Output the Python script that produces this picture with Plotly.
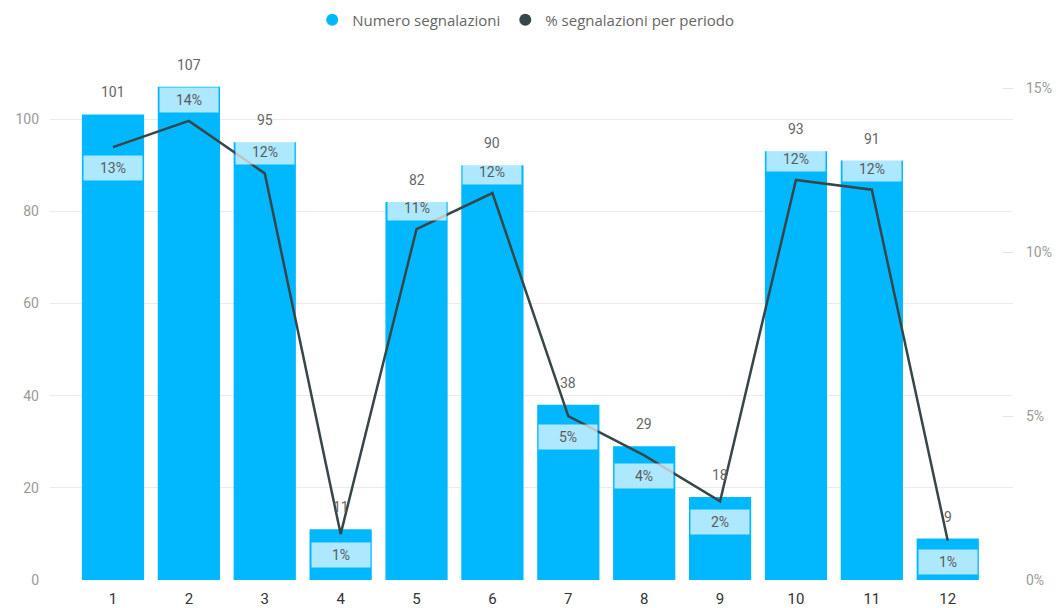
import plotly.graph_objects as go

periods = [1, 2, 3, 4, 5, 6, 7, 8, 9, 10, 11, 12]
counts = [101, 107, 95, 11, 82, 90, 38, 29, 18, 93, 91, 9]
pct = [0.132, 0.140, 0.124, 0.014, 0.107, 0.118, 0.050, 0.038, 0.024, 0.122, 0.119, 0.012]
pct_labels = ["13%", "14%", "12%", "1%", "11%", "12%", "5%", "4%", "2%", "12%", "12%", "1%"]
pct_side = [-1, 1, 1, -1, 1, 1, -1, -1, -1, 1, 1, -1]  # label above (1) or below (-1) the line point

BAR = "#01B8FF"
LINE = "#374649"
LBL = "Roboto"
TXT = "Open Sans"

fig = go.Figure()
fig.add_trace(go.Bar(x=periods, y=counts, marker=dict(color=BAR, line=dict(width=0)),
                     name="Numero segnalazioni", showlegend=False, hoverinfo="skip"))
fig.add_trace(go.Scatter(x=periods, y=pct, yaxis="y2", mode="lines",
                         line=dict(color=LINE, width=2.5), name="% segnalazioni per periodo",
                         showlegend=False, hoverinfo="skip"))
# legend entries (circle markers as in the reference)
fig.add_trace(go.Scatter(x=[None], y=[None], mode="markers", name="Numero segnalazioni",
                         marker=dict(symbol="circle", size=15, color=BAR)))
fig.add_trace(go.Scatter(x=[None], y=[None], mode="markers", name="% segnalazioni per periodo",
                         marker=dict(symbol="circle", size=15, color=LINE)))

annotations = []
for x, c in zip(periods, counts):
    annotations.append(dict(x=x, y=c, xref="x", yref="y", text=str(c), showarrow=False,
                            yanchor="bottom", yshift=12,
                            font=dict(family=LBL, size=14, color="#666666")))
for x, p, t, s in zip(periods, pct, pct_labels, pct_side):
    annotations.append(dict(x=x, y=p, xref="x", yref="y2", text=t, showarrow=False,
                            yanchor="middle", yshift=21 * s,
                            bgcolor="rgba(255,255,255,0.68)", borderpad=4, width=50,
                            font=dict(family=LBL, size=14, color="#5a5a5a")))

fig.update_layout(
    width=1053, height=600,
    margin=dict(l=42, r=48, t=65, b=28, autoexpand=False),
    paper_bgcolor="white", plot_bgcolor="white",
    bargap=0.18,
    font=dict(family=TXT, color="#999999", size=14),
    xaxis=dict(range=[0.17, 12.86], tickmode="array", tickvals=periods,
               ticktext=[str(p) for p in periods], showgrid=False, zeroline=False,
               showline=False, ticks="", ticklabelstandoff=8,
               tickfont=dict(family=LBL, size=15, color="#333333")),
    yaxis=dict(range=[0, 110], tickvals=[0, 20, 40, 60, 80, 100], showgrid=True,
               gridcolor="#EBEBEB", gridwidth=1, zeroline=False, ticks="",
               ticklabelstandoff=10, tickfont=dict(family=LBL, size=14, color="#9a9a9a")),
    yaxis2=dict(range=[0, 0.1546], overlaying="y", side="right", tickvals=[0, 0.05, 0.10, 0.15],
                tickformat=".0%", showgrid=False, zeroline=False, ticks="inside", ticklen=10,
                tickcolor="#E3E3E3", ticklabelstandoff=12,
                tickfont=dict(family=LBL, size=14, color="#9a9a9a")),
    legend=dict(orientation="h", x=0.494, xanchor="center", y=1.1045, yanchor="middle",
                font=dict(size=15, color="#666666"), itemsizing="constant",
                itemwidth=30, tracegroupgap=0),
    annotations=annotations,
)

fig.write_html("out.html")
